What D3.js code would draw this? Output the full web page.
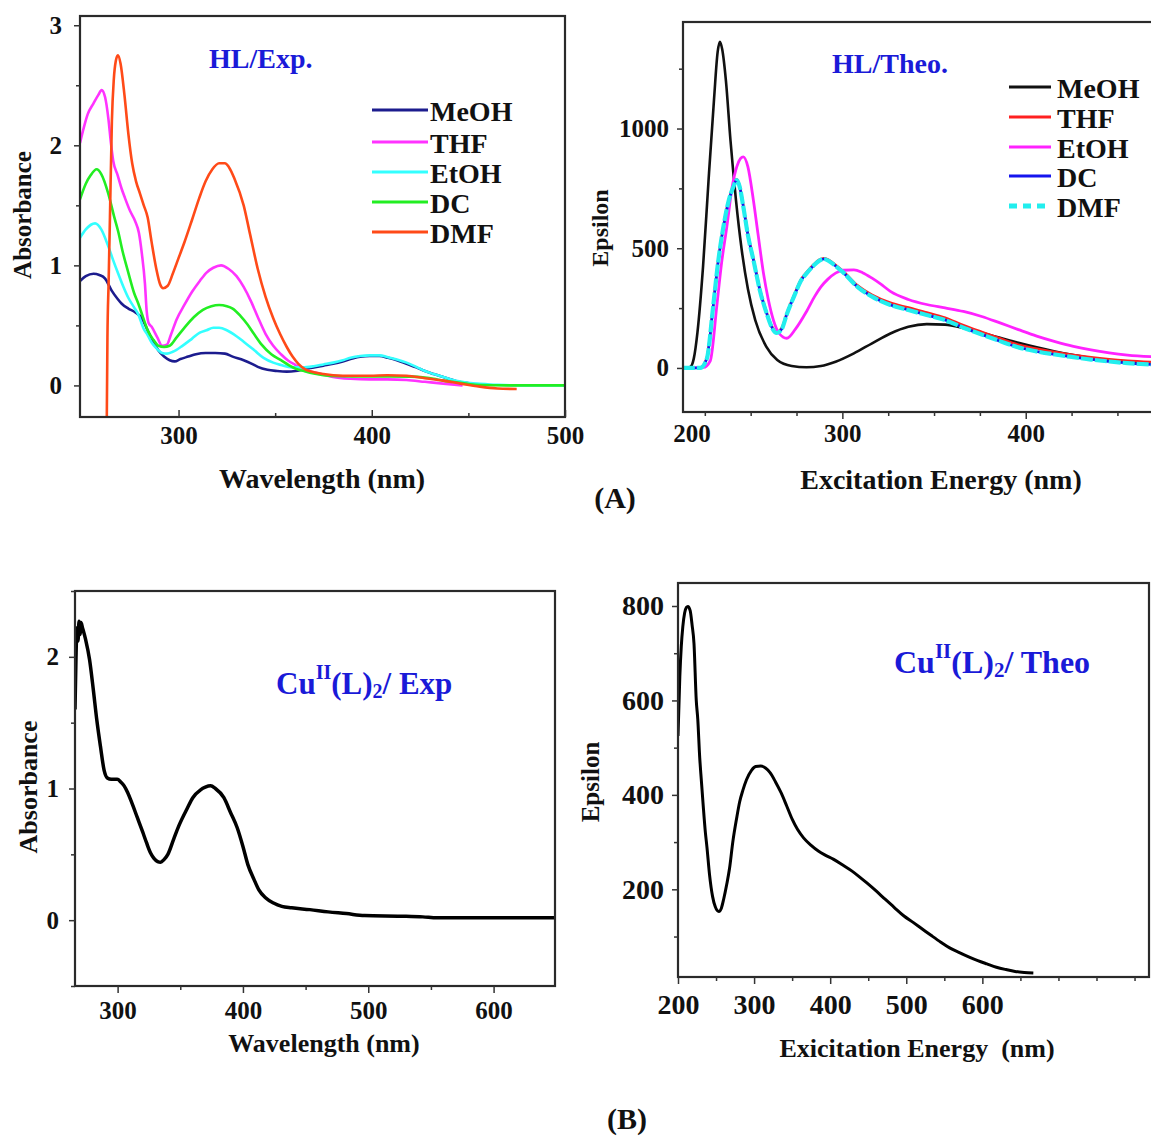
<!DOCTYPE html>
<html>
<head>
<meta charset="utf-8">
<script src="https://cdn.jsdelivr.net/npm/d3@7"></script>
<style>
  body { margin: 0; background: #fff; }
  svg text { font-family: "Liberation Serif", "Times New Roman", serif; font-weight: bold; }
  .tick text { font-size: 25px; fill: #111; }
  .tick line { stroke: #333; stroke-width: 1.5; }
  .atitle { font-size: 28px; fill: #111; }
  .ptitle { font-size: 28px; fill: #1a1ad8; }
  .leg { font-size: 28px; fill: #111; }
</style>
</head>
<body>
<div class="canvas"></div>
<script>
// ---- HL / experimental (absorbance vs wavelength, nm)
const hlExpMeOH = [[249,0.87],[252,0.91],[256,0.93],[259,0.92],[262,0.89],[265.4,0.79],[268.5,0.72],[270.6,0.68],[274,0.64],[277.5,0.61],[281,0.56],[284,0.46],[287,0.36],[289.6,0.29],[292.5,0.24],[295.4,0.21],[298,0.2],[301,0.22],[305,0.24],[309,0.26],[314,0.27],[319,0.27],[324,0.265],[328,0.24],[333.7,0.21],[338,0.18],[341,0.155],[346,0.13],[351,0.12],[356,0.115],[360.5,0.12],[365,0.135],[370,0.15],[375,0.165],[380,0.18],[385,0.2],[389,0.22],[394,0.24],[399,0.245],[404,0.245],[408.4,0.23],[413,0.21],[418,0.18],[423,0.15],[427.5,0.12],[432,0.095],[437,0.07],[441,0.05],[445,0.03],[450,0.02]];
const hlExpTHF = [[249,2.02],[251,2.15],[253,2.26],[256,2.35],[258.5,2.42],[260.2,2.46],[262,2.4],[263.7,2.22],[265,2.02],[266.2,1.87],[268.5,1.75],[270.5,1.64],[272.3,1.56],[275,1.45],[277.5,1.37],[279.5,1.27],[281,1.1],[282.6,0.85],[283.5,0.62],[284.5,0.52],[286,0.49],[289,0.4],[291.5,0.33],[294,0.34],[296,0.42],[299,0.55],[303,0.67],[307,0.78],[311,0.87],[314.5,0.94],[318,0.98],[322,1.0],[326,0.97],[330,0.91],[333.7,0.82],[337.5,0.7],[341,0.57],[345,0.43],[349,0.33],[353,0.26],[356.5,0.21],[360.5,0.17],[365,0.13],[370,0.11],[375,0.09],[380,0.07],[389,0.055],[399,0.05],[408,0.05],[418,0.045],[427.5,0.03],[437,0.015],[447,0.0]];
const hlExpEtOH = [[249,1.23],[252,1.3],[256.8,1.35],[260,1.3],[263.6,1.16],[266,1.05],[268.8,0.93],[271.5,0.82],[274,0.73],[277,0.65],[279.2,0.59],[282,0.47],[284,0.42],[286,0.36],[288.5,0.31],[291.5,0.27],[294,0.265],[297,0.28],[302,0.33],[307,0.39],[311,0.44],[314.5,0.46],[318,0.48],[321,0.48],[325,0.46],[330,0.41],[334,0.36],[339.4,0.29],[344,0.23],[349,0.19],[353,0.17],[358.6,0.15],[364,0.15],[370,0.16],[375,0.175],[380,0.19],[385,0.21],[389,0.23],[394,0.245],[399,0.25],[404,0.25],[408.4,0.235],[413,0.215],[418,0.19],[423,0.155],[427.5,0.12],[432,0.095],[437,0.07],[441,0.05],[446.7,0.03],[451,0.02],[456,0.014],[465,0.005],[475,0.0],[490,0.0],[500,0.0]];
const hlExpDC = [[249,1.55],[252,1.68],[254.5,1.75],[257.6,1.8],[260,1.76],[263.6,1.6],[266.6,1.41],[268.8,1.28],[271,1.12],[274,0.94],[277,0.77],[279.2,0.68],[282,0.55],[284,0.46],[287,0.38],[289.6,0.33],[292.5,0.32],[295.4,0.33],[299,0.4],[303,0.48],[308,0.57],[312.6,0.63],[317,0.66],[321,0.67],[325,0.66],[328,0.64],[332,0.58],[335.6,0.51],[339,0.43],[343,0.34],[348,0.26],[353,0.21],[357,0.17],[360.5,0.14],[365,0.12],[370,0.1],[375,0.085],[380,0.078],[390,0.075],[400,0.075],[410,0.075],[420,0.073],[427.5,0.065],[432,0.055],[437,0.04],[442,0.03],[447,0.02],[451,0.01],[456,0.003],[470,0.0],[485,0.0],[500,0.0]];
const hlExpDMF = [[262.8,-0.4],[263.2,0.4],[263.8,0.85],[264.5,1.4],[265.5,2.2],[266.5,2.55],[267.5,2.7],[268.6,2.75],[270,2.68],[272,2.42],[274,2.1],[276,1.85],[278,1.7],[280,1.6],[282,1.5],[284,1.4],[286,1.2],[288.5,0.97],[290.5,0.84],[292,0.81],[294.4,0.83],[297,0.93],[300,1.06],[303,1.19],[307,1.38],[310.7,1.56],[314,1.7],[317.5,1.8],[321,1.85],[324,1.85],[326,1.82],[329,1.72],[333.7,1.5],[337,1.26],[341,0.97],[345,0.74],[349,0.56],[352.5,0.43],[356,0.32],[359,0.24],[362,0.18],[366,0.13],[370,0.11],[375,0.095],[380,0.085],[390,0.08],[399,0.08],[408,0.085],[418,0.08],[427.5,0.06],[437,0.04],[446,0.015],[456,-0.01],[465,-0.025],[475,-0.03]];

// ---- HL / theoretical (epsilon vs nm)
const hlTheoMeOH = [[213,0],[217,4],[219,40],[221,150],[224,420],[227,780],[230,1120],[232,1320],[233.2,1362],[234.5,1330],[236.5,1200],[239,950],[242,700],[245,500],[248.5,330],[252.5,200],[258.5,89],[264.5,33],[272.4,8],[280.4,3],[288.3,8],[296.3,26],[306.3,61],[316.2,103],[326.2,144],[336,172],[346,183],[356,181],[366,167],[376,147],[386,126],[396,105],[406,86],[416,69],[426,54],[435.6,41],[446,32],[455.5,26],[469.4,19]];
const hlTheoTHF = [[213,0],[222.4,2],[226,40],[229.7,270],[232,430],[235.1,590],[238,700],[240.6,760],[242.4,788],[244,760],[246,678],[248.5,560],[251.5,455],[255,330],[258.8,230],[261.5,175],[264.2,150],[267,168],[269.7,228],[274,310],[277.5,370],[280.6,400],[284.4,432],[287.5,452],[290,458],[292.3,452],[296.3,430],[300.3,405],[308.2,345],[316.2,305],[326.2,272],[336,252],[346,232],[356,210],[366,178],[376,150],[386,123],[396,97],[406,80],[416,66],[426,54],[435.6,44],[445.5,36],[455.5,30],[469.4,24]];
const hlTheoEtOH = [[213,0],[224.2,2],[228,30],[231.5,256],[234,430],[237,590],[240,760],[242.4,840],[244.5,875],[246,882],[248.5,840],[251.5,700],[254,560],[257,395],[259.5,290],[262.4,200],[265.5,145],[269.7,124],[274.4,162],[280.4,235],[285,300],[288.3,339],[292,370],[296.3,396],[300.3,408],[306.3,410],[311,398],[316.2,375],[321,350],[326.2,320],[336,286],[346,265],[356,251],[366,236],[376,215],[386,188],[396,160],[406,133],[416,110],[426,90],[435.6,75],[445.5,63],[455.5,54],[469.4,47]];
const hlTheoDC = [[213,0],[222.4,0],[226,36],[229.7,266],[232,425],[235.1,586],[238,696],[240.6,757],[242.4,785],[244,757],[246,673],[248.5,555],[251.5,451],[255,325],[258.8,226],[261.5,170],[264.2,146],[267,163],[269.7,224],[274,305],[277.5,365],[280.6,396],[284.4,428],[287.5,448],[290,455],[292.3,448],[296.3,426],[300.3,400],[308.2,339],[316.2,298],[326.2,263],[336,242],[346,221],[356,200],[366,168],[376,140],[386,112],[396,86],[406,69],[416,56],[426,45],[435.6,35],[445.5,27],[455.5,20],[469.4,14]];
const hlTheoDMF = [[213,0],[222.4,0],[226,36],[229.7,268],[232,427],[235.1,588],[238,698],[240.6,757],[242.4,785],[244,757],[246,673],[248.5,555],[251.5,451],[255,325],[258.8,226],[261.5,170],[264.2,146],[267,163],[269.7,224],[274,305],[277.5,365],[280.6,396],[284.4,428],[287.5,448],[290,455],[292.3,448],[296.3,426],[300.3,400],[308.2,339],[316.2,298],[326.2,263],[336,242],[346,221],[356,200],[366,168],[376,140],[386,112],[396,86],[406,69],[416,56],[426,45],[435.6,35],[445.5,27],[455.5,20],[469.4,14]];

// ---- Cu(II)(L)2 experimental
const cuExp = [[266,1.6],[266.8,2.0],[267.6,2.22],[268.4,2.12],[269.2,2.27],[270,2.17],[270.8,2.26],[272,2.22],[274.5,2.13],[277.6,1.98],[280.5,1.76],[283.4,1.52],[286.3,1.32],[289.2,1.14],[291.8,1.08],[295,1.07],[299.7,1.07],[302.5,1.05],[305.2,1.02],[308,0.97],[311,0.9],[315.7,0.78],[320,0.67],[323,0.59],[326.3,0.51],[329,0.47],[332,0.445],[334.3,0.44],[337,0.46],[340.1,0.5],[344.9,0.62],[349,0.72],[355.6,0.85],[360,0.93],[366.2,0.99],[370,1.01],[374.2,1.02],[378,1.0],[384.8,0.93],[390,0.82],[395.5,0.7],[400,0.56],[404,0.42],[408.8,0.31],[412.7,0.23],[418,0.17],[424.4,0.13],[431,0.105],[438.9,0.094],[453.4,0.08],[468,0.063],[482.5,0.05],[497,0.035],[526,0.03],[543.5,0.025],[555,0.018],[584,0.018],[613,0.018],[649,0.018]];

// ---- Cu(II)(L)2 theoretical
const cuTheo = [[200,525],[202.4,651],[204.3,714],[206.3,756],[208.7,785],[211,797],[213,799],[216,790],[218.5,760],[221,721],[224,600],[226,560],[228.5,480],[230.7,430],[233,380],[236,320],[238,290],[241.5,230],[245.4,185],[249,163],[253.7,153],[257,160],[260,179],[264,210],[267.8,245],[272,300],[277,350],[281,385],[285.3,410],[290,432],[296.6,452],[302,460],[308.8,461],[315,457],[321,447],[328,428],[335.6,404],[343,376],[350.2,348],[357,327],[365,309],[375,293],[384.4,281],[394,272],[404,264],[416,252],[428.3,239],[438,227],[447.8,214],[460,197],[472.2,179],[484,162],[496.6,144],[509,130],[521,116],[533,102],[545.4,88],[557,76],[569.8,66],[582,57],[594,49],[606,42],[618.5,35],[631,30],[643,26],[655,24],[667,23]];

// ---- tick lists
const p1xTicks = [300, 350, 400, 450, 500];
const p1xLabels = [300, 400, 500];
const p1yTicks = [0, 0.5, 1, 1.5, 2, 2.5, 3];
const p1yLabels = [0, 1, 2, 3];
const p2xTicks = [225, 250, 275, 300, 325, 350, 375, 400, 425, 450];
const p2xLabels = [300, 400];
const p2yTicks = [0, 250, 500, 750, 1000, 1250];
const p2yLabels = [0, 500, 1000];
const p3xTicks = [300, 350, 400, 450, 500, 550, 600];
const p3xLabels = [300, 400, 500, 600];
const p3yTicks = [-0.5, 0, 0.5, 1, 1.5, 2, 2.5];
const p3yLabels = [0, 1, 2];
const p4xTicks = [200, 250, 300, 350, 400, 450, 500, 550, 600, 650, 700, 750, 800];
const p4xLabels = [200, 300, 400, 500, 600];
const p4yTicks = [100, 200, 300, 400, 500, 600, 700, 800];
const p4yLabels = [200, 400, 600, 800];

const solvents = ["MeOH", "THF", "EtOH", "DC", "DMF"];
const expColors = ["#1c1c8e", "#ff33ff", "#33ffff", "#22ee22", "#ff4a18"];
const theoColors = ["#111111", "#ff2020", "#ff22ff", "#1515ee", "#22eeee"];

var svg = d3.select(".canvas")
            .append("svg")
            .attr("width", 1151)
            .attr("height", 1138);

function panel(id, box, xDom, yDom) {
	var x = d3.scaleLinear().domain(xDom).range([box.l, box.r]);
	var y = d3.scaleLinear().domain(yDom).range([box.b, box.t]);
	svg.append("clipPath").attr("id", id)
		.append("rect")
		.attr("x", box.l).attr("y", box.t)
		.attr("width", box.r - box.l).attr("height", box.b - box.t);
	return {x: x, y: y, box: box, id: id};
}

function drawAxes(p, xt, xl, xin, xpad, yt, yl, ypad) {
	var xa = d3.axisBottom(p.x).tickValues(xt).tickSize(xin ? -7 : 7).tickPadding(xpad)
		.tickFormat(d => xl.indexOf(d) >= 0 ? d : "");
	var gx = svg.append("g").attr("transform", "translate(0," + p.box.b + ")").call(xa);
	gx.select(".domain").remove();
	var ya = d3.axisLeft(p.y).tickValues(yt).tickSize(6).tickPadding(ypad)
		.tickFormat(d => yl.indexOf(d) >= 0 ? d : "");
	var gy = svg.append("g").attr("transform", "translate(" + p.box.l + ",0)").call(ya);
	gy.select(".domain").remove();
	// minor ticks shorter
	gx.selectAll(".tick").filter(d => xl.indexOf(d) < 0).select("line").attr("y2", xin ? -4 : 4);
	gy.selectAll(".tick").filter(d => yl.indexOf(d) < 0).select("line").attr("x2", -4);
	return {gx: gx, gy: gy};
}

function frame(p) {
	var b = p.box;
	svg.append("rect").attr("x", b.l).attr("y", b.t)
		.attr("width", b.r - b.l).attr("height", b.b - b.t)
		.attr("fill", "none").attr("stroke", "#2a2a2a").attr("stroke-width", 2.2);
}

function curve(p, data, color, w, dash) {
	var line = d3.line().x(d => p.x(d[0])).y(d => p.y(d[1])).curve(d3.curveMonotoneX);
	svg.append("path").datum(data)
		.attr("clip-path", "url(#" + p.id + ")")
		.attr("d", line)
		.attr("fill", "none")
		.attr("stroke", color)
		.attr("stroke-width", w)
		.attr("stroke-linejoin", "round")
		.attr("stroke-dasharray", dash || null);
}

function text(x, y, s, cls, rot, anchor) {
	var t = svg.append("text").attr("class", cls)
		.attr("x", x).attr("y", y)
		.attr("text-anchor", anchor || "middle")
		.attr("dominant-baseline", "central")
		.text(s);
	if (rot) t.attr("transform", "rotate(-90," + x + "," + y + ")");
	return t;
}

// PANEL 1 : HL / Exp.
var p1 = panel("c1", {l: 80, t: 16, r: 565, b: 417}, [249, 500], [-0.263, 3.077]);
curve(p1, hlExpMeOH, expColors[0], 2.6);
curve(p1, hlExpTHF, expColors[1], 2.6);
curve(p1, hlExpEtOH, expColors[2], 2.6);
curve(p1, hlExpDC, expColors[3], 2.6);
curve(p1, hlExpDMF, expColors[4], 2.6);
frame(p1);
drawAxes(p1, p1xTicks, p1xLabels, true, 9, p1yTicks, p1yLabels, 12);
text(209, 58, "HL/Exp.", "ptitle", false, "start");
text(22, 215, "Absorbance", "atitle", true).style("font-size", "25px");
text(322, 478, "Wavelength (nm)", "atitle");

// legend 1
var leg1 = [110, 142, 172, 202, 232];
solvents.forEach(function(s, i){
	svg.append("line").attr("x1", 372).attr("x2", 428).attr("y1", leg1[i]).attr("y2", leg1[i])
		.attr("stroke", expColors[i]).attr("stroke-width", 3);
	text(430, leg1[i] + 1, s, "leg", false, "start");
});

// PANEL 2 : HL / Theo.
var p2 = panel("c2", {l: 683, t: 22, r: 1153, b: 412}, [213.1, 469.4], [-184, 1445]);
curve(p2, hlTheoMeOH, theoColors[0], 2.6);
curve(p2, hlTheoTHF, theoColors[1], 2.6);
curve(p2, hlTheoEtOH, theoColors[2], 2.8);
curve(p2, hlTheoDC, theoColors[3], 2.6);
curve(p2, hlTheoDMF, theoColors[4], 4.2, "12,2");
frame(p2);
drawAxes(p2, p2xTicks, p2xLabels, false, 5, p2yTicks, p2yLabels, 8);
text(p2.box.l + 9, 433, "200", "atitle", false).style("font-size", "25px");
text(600, 228, "Epsilon", "atitle", true).style("font-size", "24px");
text(941, 479, "Excitation Energy (nm)", "atitle");
text(832, 63, "HL/Theo.", "ptitle", false, "start");

var leg2 = [87, 117, 147, 176, 206];
solvents.forEach(function(s, i){
	svg.append("line").attr("x1", 1009).attr("x2", 1051).attr("y1", leg2[i]).attr("y2", leg2[i])
		.attr("stroke", theoColors[i]).attr("stroke-width", i === 4 ? 5 : 3)
		.attr("stroke-dasharray", i === 4 ? "8,6" : null);
	text(1057, leg2[i] + 1, s, "leg", false, "start");
});

text(615, 497, "(A)", "atitle", false).style("font-size", "30px");

// PANEL 3 : Cu(II)(L)2 / Exp
var p3 = panel("c3", {l: 75, t: 591, r: 555, b: 986}, [266, 649], [-0.5, 2.5]);
curve(p3, cuExp, "#000", 3.5);
frame(p3);
drawAxes(p3, p3xTicks, p3xLabels, false, 8, p3yTicks, p3yLabels, 10);
text(28, 787, "Absorbance", "atitle", true).style("font-size", "26px");
text(324, 1043, "Wavelength (nm)", "atitle").style("font-size", "26px");
var t3 = svg.append("text").attr("class", "ptitle").attr("x", 276).attr("y", 683)
	.attr("dominant-baseline", "central").style("font-size", "31px");
t3.append("tspan").text("Cu");
t3.append("tspan").attr("dy", -11).style("font-size", "20px").text("II");
t3.append("tspan").attr("dy", 11).text("(L)");
t3.append("tspan").attr("dy", 8).style("font-size", "20px").text("2");
t3.append("tspan").attr("dy", -8).text("/ Exp");

// PANEL 4 : Cu(II)(L)2 / Theo
var p4 = panel("c4", {l: 678, t: 583, r: 1149, b: 977}, [200, 819], [14.3, 848.7]);
curve(p4, cuTheo, "#000", 3);
frame(p4);
var a4 = drawAxes(p4, p4xTicks, p4xLabels, false, 10, p4yTicks, p4yLabels, 8);
a4.gx.selectAll("text").style("font-size", "28px");
a4.gy.selectAll("text").style("font-size", "28px");
text(590, 782, "Epsilon", "atitle", true).style("font-size", "25px");
text(917, 1048, "Exicitation Energy  (nm)", "atitle").style("white-space", "pre").style("font-size", "26px");
var t4 = svg.append("text").attr("class", "ptitle").attr("x", 894).attr("y", 662)
	.attr("dominant-baseline", "central").style("font-size", "32px");
t4.append("tspan").text("Cu");
t4.append("tspan").attr("dy", -11).style("font-size", "21px").text("II");
t4.append("tspan").attr("dy", 11).text("(L)");
t4.append("tspan").attr("dy", 8).style("font-size", "21px").text("2");
t4.append("tspan").attr("dy", -8).text("/ Theo");

text(627, 1118, "(B)", "atitle", false).style("font-size", "30px");
</script>
</body>
</html>
